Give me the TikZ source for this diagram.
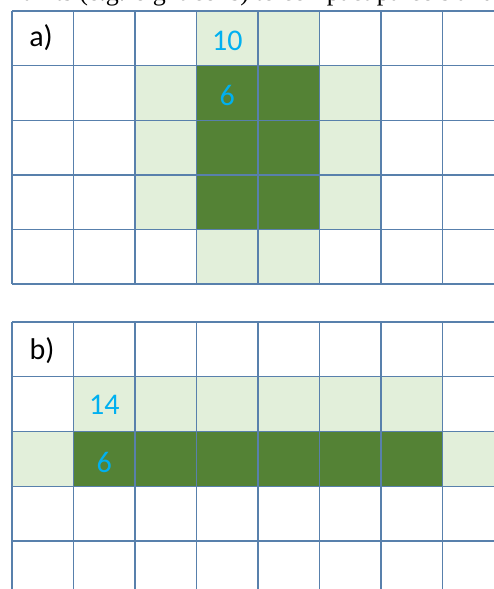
\documentclass[tikz,border=0pt]{standalone}
\usepackage{fontspec}
\setmainfont{Carlito}
\newfontfamily\captfont{Liberation Serif}
\definecolor{gridblue}{RGB}{88,128,172}
\definecolor{lightg}{HTML}{E2EFDA}
\definecolor{darkg}{HTML}{548235}
\definecolor{numcyan}{HTML}{00B0F0}
\begin{document}
\begin{tikzpicture}[x=1pt,y=-1pt,
  gridline/.style={draw=gridblue,line width=1.4pt},
  paneltext/.style={font=\fontsize{30}{34}\selectfont,text=black,inner sep=0pt},
  numtext/.style={font=\fontsize{30}{34}\selectfont,text=numcyan,inner sep=0pt}]
\useasboundingbox (0,0) rectangle (494,589);
\clip (0,0) rectangle (494,589);
\fill[white] (0,0) rectangle (494,589);
% cut-off caption line at the top
\begin{scope}
\clip (0,0) rectangle (494,10);
\node[anchor=base west,inner sep=0pt,font=\captfont\fontsize{26}{30}\selectfont] (caption) at (22,0.5) {units (e.g. eight cells) to compact parcels and};
\end{scope}
% ---------- panel a ----------
\fill[lightg] ({12+61.5*3},11) rectangle ({12+61.5*5},65.6);
\fill[lightg] ({12+61.5*2},65.6) rectangle ({12+61.5*6},229.4);
\fill[darkg] ({12+61.5*3},65.6) rectangle ({12+61.5*5},229.4);
\fill[lightg] ({12+61.5*3},229.4) rectangle ({12+61.5*5},284);
\foreach \j in {0,...,5}
  \draw[gridline] (12,{11+54.6*\j}) -- (494,{11+54.6*\j});
\foreach \i in {0,...,7}
  \draw[gridline] ({12+61.5*\i},11) -- ({12+61.5*\i},284);
\node[paneltext] (alabel) at (41,38) {a)};
\node[numtext] (aten) at (227.25,41) {10};
\node[numtext] (asix) at (227.25,95) {6};
% ---------- panel b ----------
\fill[lightg] ({12+61.5*1},376.75) rectangle ({12+61.5*7},486.25);
\fill[lightg] (12,431.5) rectangle (494,486.25);
\fill[darkg] ({12+61.5*1},431.5) rectangle ({12+61.5*7},486.25);
\foreach \j in {0,...,4}
  \draw[gridline] (12,{322+54.75*\j}) -- (494,{322+54.75*\j});
\foreach \i in {0,...,7}
  \draw[gridline] ({12+61.5*\i},322) -- ({12+61.5*\i},589);
\node[paneltext] (blabel) at (42,351) {b)};
\node[numtext] (bfourteen) at (104.25,405) {14};
\node[numtext] (bsix) at (104.25,462) {6};
\end{tikzpicture}
\end{document}
